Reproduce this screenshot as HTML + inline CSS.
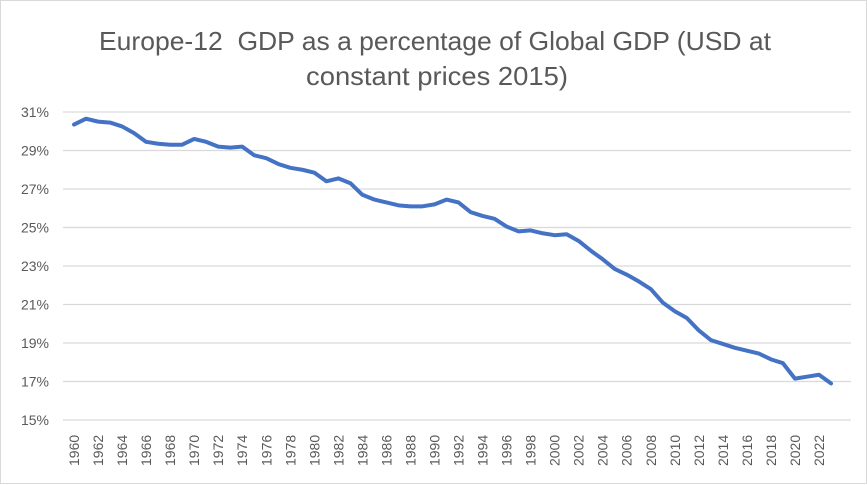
<!DOCTYPE html>
<html><head><meta charset="utf-8"><style>
html,body{margin:0;padding:0;background:#fff;}
#wrap{position:relative;width:867px;height:484px;box-sizing:border-box;border:1px solid #d9d9d9;}
svg{position:absolute;left:0;top:0;}
</style></head><body>
<div id="wrap">
<svg id="chart" width="867" height="484">
<text x="434" y="49" text-anchor="middle" textLength="672" lengthAdjust="spacingAndGlyphs" font-family="Liberation Sans, sans-serif" font-size="26" fill="#595959">Europe-12&#160; GDP as a percentage of Global GDP (USD at</text>
<text x="436" y="84" text-anchor="middle" textLength="262" lengthAdjust="spacingAndGlyphs" font-family="Liberation Sans, sans-serif" font-size="26" fill="#595959">constant prices 2015)</text>
</svg>
</div>
<script>
const years = [];
for (let y = 1960; y <= 2023; y++) years.push(y);
const values = [30.35,30.65,30.5,30.45,30.25,29.9,29.45,29.35,29.3,29.3,29.6,29.45,29.2,29.15,29.2,28.75,28.6,28.3,28.1,28.0,27.85,27.4,27.55,27.3,26.7,26.45,26.3,26.15,26.1,26.1,26.2,26.45,26.3,25.8,25.6,25.45,25.05,24.8,24.85,24.7,24.6,24.65,24.3,23.8,23.35,22.85,22.55,22.2,21.8,21.1,20.65,20.3,19.65,19.15,18.95,18.75,18.6,18.45,18.15,17.95,17.15,17.25,17.35,16.9];
const yTicks = [15,17,19,21,23,25,27,29,31];
const NS = 'http://www.w3.org/2000/svg';
const svg = document.getElementById('chart');
const x = i => 73 + (i) * (818 - 73) / 62;
const y = v => 419 - (v - 15) * (419 - 111) / 16;
yTicks.forEach(t => {
  const l = document.createElementNS(NS, 'line');
  l.setAttribute('x1', 62); l.setAttribute('x2', 850);
  l.setAttribute('y1', y(t)); l.setAttribute('y2', y(t));
  l.setAttribute('stroke', '#d9d9d9'); l.setAttribute('stroke-width', '1.3');
  
  
  svg.appendChild(l);
  const tx = document.createElementNS(NS, 'text');
  tx.setAttribute('x', 48); tx.setAttribute('y', y(t) + 5);
  tx.setAttribute('text-anchor', 'end');
  tx.setAttribute('font-family', 'Liberation Sans, sans-serif');
  tx.setAttribute('font-size', '14'); tx.setAttribute('fill', '#595959');
  tx.textContent = t + '%';
  
  
  svg.appendChild(tx);
});
years.forEach((yr, i) => {
  if (yr % 2 !== 0) return;
  const tx = document.createElementNS(NS, 'text');
  const px = x(i) + 5, py = 465;
  tx.setAttribute('x', px); tx.setAttribute('y', py);
  tx.setAttribute('transform', 'rotate(-90 ' + px + ' ' + py + ')');
  tx.setAttribute('font-family', 'Liberation Sans, sans-serif');
  tx.setAttribute('font-size', '14'); tx.setAttribute('fill', '#595959');
  tx.textContent = yr;
  
  
  svg.appendChild(tx);
});
const p = document.createElementNS(NS, 'polyline');
p.setAttribute('points', values.map((v, i) => x(i) + ',' + y(v)).join(' '));
p.setAttribute('fill', 'none'); p.setAttribute('stroke', '#4472c4');
p.setAttribute('stroke-width', '4'); p.setAttribute('stroke-linejoin', 'round');
p.setAttribute('stroke-linecap', 'round');


svg.appendChild(p);
</script>
</body></html>
